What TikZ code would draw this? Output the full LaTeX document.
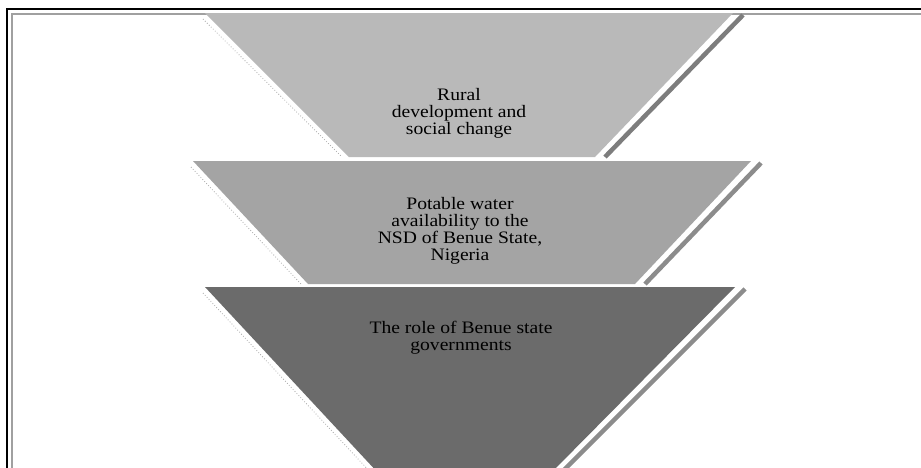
\documentclass[tikz,border=0pt]{standalone}
\usepackage{fontspec}
\setmainfont{Liberation Serif}
\usepackage{tikz}
\usetikzlibrary{calc}
\definecolor{toplayer}{RGB}{185,185,185}
\definecolor{midlayer}{RGB}{164,164,164}
\definecolor{baselayer}{RGB}{107,107,107}
\definecolor{shadeA}{RGB}{125,125,125}
\definecolor{shadeB}{RGB}{140,140,140}
\definecolor{framegray}{RGB}{160,160,160}
\definecolor{dotgray}{RGB}{170,170,170}
% one layer of the funnel: corners tl, tr, br, bl, fill, shadow
\newcommand{\funnellayer}[6]{
  \fill[#5] #1 -- #2 -- #3 -- #4 -- cycle;
  \draw[#6, line width=4.5pt] ($#2+(10,2)$) -- ($#3+(10,0)$);
  \draw[dotgray, dotted, line width=0.8pt] ($#1+(-2,6)$) -- ($#4+(-7,0)$);
}
\tikzset{layertext/.style={align=center, text=black, xscale=1.12,
    font=\fontsize{17.5}{17}\selectfont}}

\begin{document}
\begin{tikzpicture}[x=1pt,y=-1pt]
\useasboundingbox (0,0) rectangle (921,467);
\clip (0,0) rectangle (921,467);
\fill[white] (0,0) rectangle (921,467);
% double frame
\draw[black, line width=1.3pt] (7,470)--(7,9)--(925,9);
\draw[framegray, line width=1.3pt] (12,470)--(12,14)--(925,14);
% funnel layers
\funnellayer{(205,13)}{(733,13)}{(595,157)}{(349,157)}{toplayer}{shadeA}
\funnellayer{(193,161)}{(751,161)}{(635,284)}{(308,284)}{midlayer}{shadeB}
\funnellayer{(205,287)}{(735,287)}{(549,475)}{(380,475)}{baselayer}{shadeB}
% labels
\node[layertext] (rural) at (459,113) {Rural\\development and\\social change};
\node[layertext] (water) at (460,231) {Potable water\\availability to the\\NSD of Benue State,\\Nigeria};
\node[layertext] (role) at (461,338) {The role of Benue state\\governments};
\end{tikzpicture}
\end{document}
